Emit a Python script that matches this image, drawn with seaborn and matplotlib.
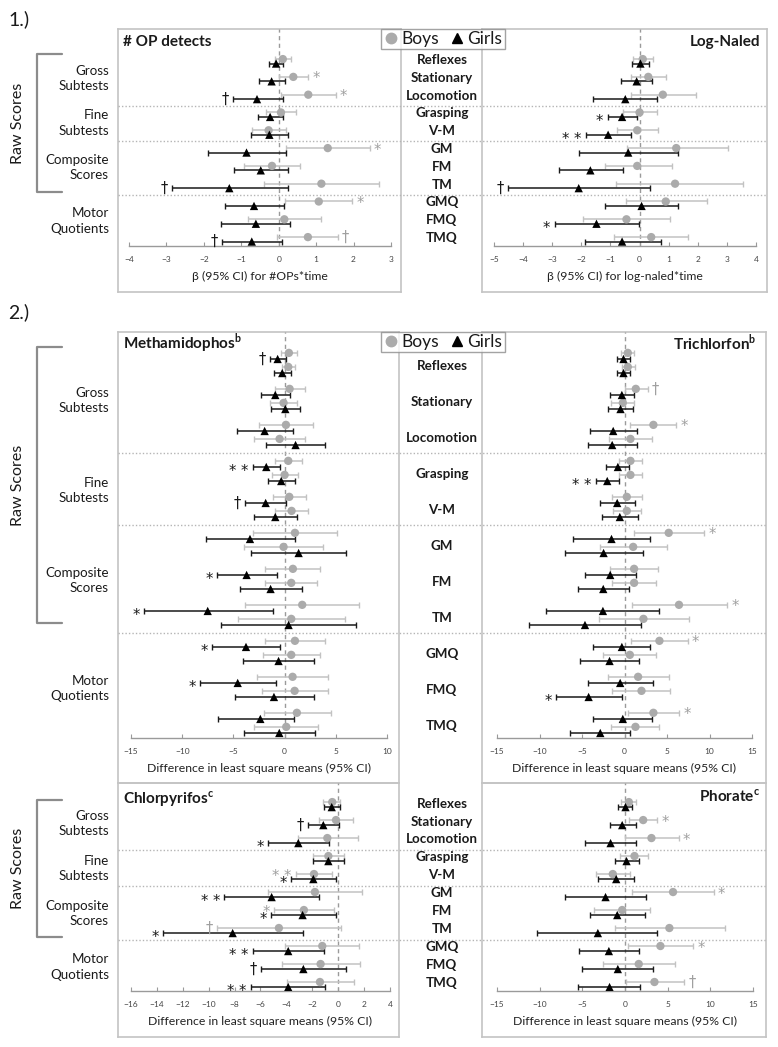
import numpy as np
import pandas as pd
import matplotlib
matplotlib.use("Agg")
import matplotlib.pyplot as plt
import matplotlib.transforms as mtrans
from matplotlib.lines import Line2D
import seaborn as sns

W, H = 778, 1047

measures = ["Reflexes", "Stationary", "Locomotion", "Grasping", "V-M",
            "GM", "FM", "TM", "GMQ", "FMQ", "TMQ"]
groups = [("Gross\nSubtests", [0, 1, 2]), ("Fine\nSubtests", [3, 4]),
          ("Composite\nScores", [5, 6, 7]), ("Motor\nQuotients", [8, 9, 10])]
separators_after = [2, 4, 7]

# --- 1.) # OP detects ---
op_boys_est = [0.11, 0.39, 0.79, 0.06, -0.27, 1.31, -0.18, 1.14, 1.07, 0.15, 0.78]
op_boys_lo = [-0.10, 0.00, 0.06, -0.34, -0.71, 0.20, -0.92, -0.38, 0.18, -0.83, -0.05]
op_boys_hi = [0.33, 0.79, 1.52, 0.45, 0.20, 2.43, 0.58, 2.67, 1.96, 1.13, 1.58]
op_boys_sig = ["", "*", "*", "", "", "*", "", "", "*", "", "†"]
op_girls_est = [-0.07, -0.19, -0.58, -0.23, -0.25, -0.86, -0.48, -1.32, -0.66, -0.61, -0.72]
op_girls_lo = [-0.25, -0.52, -1.23, -0.56, -0.74, -1.90, -1.19, -2.86, -1.43, -1.53, -1.52]
op_girls_hi = [0.11, 0.16, 0.11, 0.11, 0.24, 0.20, 0.24, 0.24, 0.13, 0.31, 0.09]
op_girls_sig = ["", "", "†", "", "", "", "", "†", "", "", "†"]

# --- 1.) Log-Naled ---
nal_boys_est = [0.11, 0.30, 0.80, 0.00, -0.08, 1.26, -0.08, 1.22, 0.90, -0.45, 0.40]
nal_boys_lo = [-0.23, -0.31, -0.31, -0.57, -0.79, -0.42, -1.20, -0.80, -0.47, -1.95, -0.88]
nal_boys_hi = [0.46, 0.92, 1.93, 0.60, 0.64, 3.04, 1.10, 3.56, 2.33, 1.04, 1.66]
nal_boys_sig = [""] * 11
nal_girls_est = [0.03, -0.10, -0.49, -0.60, -1.08, -0.39, -1.69, -2.09, 0.07, -1.48, -0.60]
nal_girls_lo = [-0.25, -0.64, -1.60, -1.10, -1.84, -2.07, -2.78, -4.52, -1.20, -2.92, -1.86]
nal_girls_hi = [0.33, 0.44, 0.59, -0.10, -0.31, 1.32, -0.56, 0.36, 1.33, -0.02, 0.72]
nal_girls_sig = ["", "", "", "*", "**", "", "", "†", "", "*", ""]

# --- 2.) Methamidophos (two rows per measure) ---
meth_boys_est = [0.42, 0.36, 0.49, -0.10, 0.13, -0.49, 0.36, 0.00, 0.46, 0.68, 1.01,
                 -0.10, 0.81, 0.65, 1.72, 0.65, 1.01, 0.65, 0.78, 0.98, 1.20, 0.16]
meth_boys_lo = [-0.33, -0.26, -0.91, -1.40, -2.54, -2.96, -0.98, -1.27, -1.17, -0.91, -3.12,
                -3.97, -1.89, -1.89, -3.84, -4.55, -1.95, -2.15, -2.70, -2.21, -1.98, -2.96]
meth_boys_hi = [1.20, 1.04, 1.95, 1.20, 2.76, 2.02, 1.72, 1.27, 2.11, 2.24, 5.10,
                3.74, 3.48, 3.15, 7.25, 5.85, 3.97, 3.41, 4.23, 4.23, 4.52, 3.25]
meth_boys_sig = [""] * 22
meth_girls_est = [-0.68, -0.23, -0.91, 0.07, -1.95, 1.07, -1.79, -0.33, -1.85, -0.91, -3.38,
                  1.37, -3.71, -1.37, -7.51, 0.39, -3.77, -0.59, -4.58, -1.04, -2.37, -0.52]
meth_girls_lo = [-1.40, -1.00, -2.31, -1.33, -4.65, -1.82, -3.12, -1.66, -3.84, -2.96, -7.70,
                 -3.25, -6.60, -4.39, -13.75, -6.24, -7.09, -4.10, -8.29, -4.81, -6.53, -4.00]
meth_girls_hi = [0.13, 0.62, 0.49, 1.53, 0.81, 3.97, -0.42, 1.04, 0.13, 1.17, 0.98,
                 5.95, -0.78, 1.69, -1.17, 7.02, -0.49, 2.89, -0.88, 2.89, 0.94, 2.99]
meth_girls_sig = ["†", "", "", "", "", "", "**", "", "†", "", "",
                  "", "*", "", "*", "", "*", "", "*", "", "", ""]

# --- 2.) Trichlorfon ---
tri_boys_est = [0.39, 0.39, 1.33, -0.20, 3.40, 0.70, 0.70, 0.70, 0.27, 0.27, 5.20,
                1.02, 1.13, 1.13, 6.41, 2.23, 4.11, 0.63, 1.60, 2.00, 3.40, 1.29]
tri_boys_lo = [-0.39, -0.31, 0.00, -1.56, 0.70, -1.84, -0.66, -0.63, -1.45, -1.37, 1.06,
               -2.93, -1.68, -1.49, 0.86, -3.05, 0.78, -2.54, -1.92, -1.45, 0.39, -1.56]
tri_boys_hi = [1.17, 1.25, 2.74, 1.17, 6.06, 3.25, 2.11, 2.07, 2.03, 1.96, 9.39,
               4.97, 3.91, 3.72, 12.05, 7.55, 7.43, 3.72, 5.20, 5.36, 6.45, 4.11]
tri_boys_sig = ["", "", "†", "", "*", "", "", "", "", "", "*",
                "", "", "", "*", "", "*", "", "", "", "*", ""]
tri_girls_est = [-0.12, -0.12, -0.31, -0.47, -1.33, -1.45, -0.78, -2.03, -0.86, -0.55, -1.53,
                 -2.46, -1.68, -2.50, -2.54, -4.65, -0.31, -1.76, -0.51, -4.22, -0.20, -2.85]
tri_girls_lo = [-0.90, -0.94, -1.72, -1.92, -4.10, -4.30, -2.15, -3.40, -2.89, -2.62, -6.06,
                -7.04, -4.61, -5.44, -9.19, -11.26, -3.68, -5.20, -4.26, -8.10, -3.72, -6.37]
tri_girls_hi = [0.66, 0.66, 1.10, 0.98, 1.45, 1.45, 0.55, -0.66, 1.25, 1.56, 2.97,
                2.15, 1.37, 0.51, 4.03, 1.99, 3.05, 1.72, 3.32, -0.31, 3.25, 0.70]
tri_girls_sig = ["", "", "", "", "", "", "", "**", "", "", "",
                 "", "", "", "", "", "", "", "", "*", "", ""]

# --- 2.) Chlorpyrifos ---
chl_boys_est = [-0.46, -0.17, -0.84, -0.76, -1.87, -1.80, -2.65, -4.58, -1.23, -1.36, -1.41]
chl_boys_lo = [-1.15, -1.46, -3.08, -1.92, -3.28, -5.41, -4.97, -9.39, -4.11, -4.37, -3.98]
chl_boys_hi = [0.14, 1.12, 1.55, 0.45, -0.50, 1.80, -0.33, 0.21, 1.63, 1.68, 1.24]
chl_boys_sig = ["", "", "", "", "**", "", "*", "†", "", "", ""]
chl_girls_est = [-0.50, -1.15, -3.08, -0.76, -1.92, -5.14, -2.75, -8.15, -3.86, -2.69, -3.86]
chl_girls_lo = [-1.10, -2.31, -5.40, -1.92, -3.64, -8.80, -5.20, -13.50, -6.61, -5.96, -6.77]
chl_girls_hi = [0.14, 0.06, -0.71, 0.45, -0.19, -1.46, -0.18, -2.75, -1.07, 0.60, -1.03]
chl_girls_sig = ["", "†", "*", "", "*", "**", "*", "*", "**", "†", "**"]

# --- 2.) Phorate ---
pho_boys_est = [0.45, 2.13, 3.10, 1.11, -1.43, 5.63, -0.33, 5.20, 4.15, 1.61, 3.45]
pho_boys_lo = [-0.45, 0.45, 0.00, -0.53, -3.45, 0.84, -3.64, -1.19, 0.37, -2.55, 0.06]
pho_boys_hi = [1.34, 3.76, 6.31, 2.71, 0.56, 10.38, 2.90, 11.67, 7.97, 5.82, 6.95]
pho_boys_sig = ["", "*", "*", "", "", "*", "", "", "*", "", "†"]
pho_girls_est = [0.06, -0.33, -1.69, 0.18, -1.03, -2.28, -0.91, -3.18, -1.89, -0.84, -1.81]
pho_girls_lo = [-0.80, -1.78, -4.73, -1.23, -3.18, -7.04, -4.11, -10.26, -5.40, -5.00, -5.52]
pho_girls_hi = [0.84, 1.31, 1.31, 1.69, 1.11, 2.51, 2.32, 3.76, 1.61, 3.30, 1.81]
pho_girls_sig = [""] * 11

BOY_LINE = "#c2c2c2"
BOY_DOT = "#ababab"
BOY_SIG = "#a0a0a0"
GIRL_LINE = "#1a1a1a"
FRAME = "#c4c4c4"
AXIS = "#9a9a9a"

sns.set_theme(style="white")
plt.rcParams["font.family"] = ["Lato", "DejaVu Sans"]
plt.rcParams["mathtext.fontset"] = "custom"
plt.rcParams["mathtext.rm"] = "Lato"
plt.rcParams["mathtext.bf"] = "Lato:bold"
plt.rcParams["text.color"] = "#1a1a1a"

fig = plt.figure(figsize=(W / 100, H / 100), dpi=100)


def rect(x0, y0, x1, y1):
    return [x0 / W, 1 - y1 / H, (x1 - x0) / W, (y1 - y0) / H]


def frame_box(box):
    fr = fig.add_axes(rect(*box), zorder=0)
    fr.set_xticks([])
    fr.set_yticks([])
    fr.patch.set_alpha(0)
    for sp in fr.spines.values():
        sp.set_color(FRAME)
        sp.set_linewidth(1.2)
    return fr


def forest(inner, xlim, xticks, ylim, y_boys, y_girls, boys, girls, xlabel):
    ax = fig.add_axes(rect(*inner), zorder=2)
    ax.patch.set_alpha(0)
    ax.axvline(0, color=AXIS, ls=(0, (3, 2.5)), lw=1, zorder=1)

    for (est, lo, hi, sig), yy, lc, sc, lift in [(boys, y_boys, BOY_LINE, BOY_SIG, 1.0),
                                                (girls, y_girls, GIRL_LINE, GIRL_LINE, -1.0)]:
        est, lo, hi = np.asarray(est), np.asarray(lo), np.asarray(hi)
        ax.errorbar(est, yy, xerr=[est - lo, hi - est], fmt="none", ecolor=lc,
                    elinewidth=1.1, capsize=2, capthick=1, zorder=2)
        for e, l, h, s, y in zip(est, lo, hi, sig, yy):
            if not s:
                continue
            left = e < 0
            dy = -2.5 + lift if "*" in s else 0
            ax.annotate(s.replace("**", "* *"), xy=(l if left else h, y),
                        xytext=(-3 if left else 3, dy), textcoords="offset points",
                        ha="right" if left else "left", va="center",
                        fontsize=10.5, color=sc, annotation_clip=False,
                        family="DejaVu Sans")

    df = pd.DataFrame({
        "est": np.concatenate([boys[0], girls[0]]),
        "y": np.concatenate([y_boys, y_girls]),
        "sex": ["Boys"] * len(y_boys) + ["Girls"] * len(y_girls),
    })
    sns.scatterplot(data=df, x="est", y="y", hue="sex", style="sex",
                    markers={"Boys": "o", "Girls": "^"},
                    palette={"Boys": BOY_DOT, "Girls": "black"},
                    s=36, linewidth=0, legend=False, ax=ax, zorder=3)

    ax.set_xlim(*xlim)
    ax.set_ylim(*ylim)
    ax.set_xticks(xticks)
    ax.set_yticks([])
    ax.set_ylabel("")
    for side in ["top", "left", "right"]:
        ax.spines[side].set_visible(False)
    ax.spines["bottom"].set_color(AXIS)
    ax.spines["bottom"].set_linewidth(1)
    ax.tick_params(axis="x", direction="in", length=3, width=0.8, colors=AXIS,
                   labelcolor="#444444", labelsize=6, pad=7, bottom=True)
    ax.set_xlabel(xlabel, fontsize=8.8, labelpad=6, color="#222222")
    return ax


def blend(ax):
    return mtrans.blended_transform_factory(fig.transFigure, ax.transData)


def side_labels(ax, label_y, group_y, bracket, sep_y, x_right):
    tr = blend(ax)
    for m, y in zip(measures, label_y):
        ax.text(442 / W, y, m, transform=tr, ha="center", va="center",
                fontsize=9.6, fontweight="bold", color="#1a1a1a", clip_on=False)
    for (g, _), y in zip(groups, group_y):
        ax.text(109 / W, y, g, transform=tr, ha="right", va="center",
                fontsize=9.6, linespacing=1.35, clip_on=False)
    top, bot = bracket
    ax.plot([62 / W, 37 / W, 37 / W, 62 / W], [top, top, bot, bot], transform=tr,
            color="#8c8c8c", lw=1.6, clip_on=False)
    ax.text(18 / W, (top + bot) / 2, "Raw Scores", transform=tr, rotation=90,
            ha="center", va="center", fontsize=11.5, clip_on=False)
    for y in sep_y:
        ax.plot([118 / W, x_right / W], [y, y], transform=tr, color="#b5b5b5",
                ls=(0, (1, 1.5)), lw=1, clip_on=False, zorder=1)


def legend_at(y_top):
    handles = [Line2D([], [], marker="o", ls="none", color=BOY_DOT, markersize=7.5),
               Line2D([], [], marker="^", ls="none", color="black", markersize=6.5)]
    leg = fig.legend(handles, ["Boys", "Girls"], loc="upper left",
                     bbox_to_anchor=(381 / W, 1 - y_top / H), ncol=2, frameon=True,
                     fancybox=False, edgecolor="#8c8c8c", borderaxespad=0,
                     handletextpad=0.15, columnspacing=0.6, borderpad=0.12,
                     handlelength=0.9, fontsize=12.5)
    leg.get_frame().set_linewidth(1)
    leg.set_zorder(10)


idx = np.arange(len(measures))
sep_idx = np.array(separators_after)

# ---------------- section 1 ----------------
fig.text(8 / W, 1 - 19 / H, "1.)", fontsize=14, va="center", ha="left")
frame_box((118, 29, 401, 292))
frame_box((482, 29, 767, 292))
y1_b, y1_g = idx.astype(float), idx + 0.25
ylim1 = (10.5, -1.69)
ax1 = forest((129, 29, 391, 246), (-4, 3), range(-4, 4), ylim1, y1_b, y1_g,
             (op_boys_est, op_boys_lo, op_boys_hi, op_boys_sig),
             (op_girls_est, op_girls_lo, op_girls_hi, op_girls_sig),
             "β (95% CI) for #OPs*time")
forest((494, 29, 756, 246), (-5, 4), range(-5, 5), ylim1, y1_b, y1_g,
       (nal_boys_est, nal_boys_lo, nal_boys_hi, nal_boys_sig),
       (nal_girls_est, nal_girls_lo, nal_girls_hi, nal_girls_sig),
       "β (95% CI) for log-naled*time")
side_labels(ax1, idx + 0.05, [np.mean(g) + 0.1 for _, g in groups], (-0.28, 7.47),
            sep_idx + 0.625, 767)
fig.text(123 / W, 1 - 42 / H, "# OP detects", fontsize=11, fontweight="bold",
         va="center", ha="left")
fig.text(760 / W, 1 - 42 / H, "Log-Naled", fontsize=11, fontweight="bold",
         va="center", ha="right")
legend_at(29)

# ---------------- section 2 ----------------
fig.text(8 / W, 1 - 312 / H, "2.)", fontsize=14, va="center", ha="left")
frame_box((118, 332, 399, 783))
frame_box((482, 332, 766, 783))
m2 = np.repeat(idx, 2)
first = np.tile([True, False], len(measures))
y2_b = m2 + np.where(first, -0.28, 0.11)
y2_g = m2 + np.where(first, -0.11, 0.28)
ylim2 = (10.42, -0.86)
ax2 = forest((131, 332, 387, 738), (-15, 10), range(-15, 11, 5), ylim2, y2_b, y2_g,
             (meth_boys_est, meth_boys_lo, meth_boys_hi, meth_boys_sig),
             (meth_girls_est, meth_girls_lo, meth_girls_hi, meth_girls_sig),
             "Difference in least square means (95% CI)")
forest((497, 332, 752, 738), (-15, 15), range(-15, 16, 5), ylim2, y2_b, y2_g,
       (tri_boys_est, tri_boys_lo, tri_boys_hi, tri_boys_sig),
       (tri_girls_est, tri_girls_lo, tri_girls_hi, tri_girls_sig),
       "Difference in least square means (95% CI)")
side_labels(ax2, idx + 0.08, [np.mean(g) + 0.05 for _, g in groups], (-0.44, 7.22),
            sep_idx + 0.5, 767)
fig.text(123 / W, 1 - 343 / H, r"Methamidophos$^{\mathbf{b}}$", fontsize=11,
         fontweight="bold", va="center", ha="left")
fig.text(757 / W, 1 - 343 / H, r"Trichlorfon$^{\mathbf{b}}$", fontsize=11,
         fontweight="bold", va="center", ha="right")
legend_at(332)

# ---------------- section 3 ----------------
frame_box((118, 783, 399, 1037))
frame_box((482, 783, 766, 1037))
y3_b, y3_g = idx.astype(float), idx + 0.28
ylim3 = (10.5, -1.06)
ax3 = forest((131, 783, 390, 991), (-16, 4), range(-16, 5, 2), ylim3, y3_b, y3_g,
             (chl_boys_est, chl_boys_lo, chl_boys_hi, chl_boys_sig),
             (chl_girls_est, chl_girls_lo, chl_girls_hi, chl_girls_sig),
             "Difference in least square means (95% CI)")
forest((497, 783, 753, 991), (-15, 15), range(-15, 16, 5), ylim3, y3_b, y3_g,
       (pho_boys_est, pho_boys_lo, pho_boys_hi, pho_boys_sig),
       (pho_girls_est, pho_girls_lo, pho_girls_hi, pho_girls_sig),
       "Difference in least square means (95% CI)")
side_labels(ax3, idx + 0.08, [np.mean(g) + 0.18 for _, g in groups], (-0.11, 7.5),
            sep_idx + 0.64, 767)
fig.text(123 / W, 1 - 799 / H, r"Chlorpyrifos$^{\mathbf{c}}$", fontsize=11,
         fontweight="bold", va="center", ha="left")
fig.text(760 / W, 1 - 796 / H, r"Phorate$^{\mathbf{c}}$", fontsize=11,
         fontweight="bold", va="center", ha="right")

fig.savefig("out.png", dpi=100)
